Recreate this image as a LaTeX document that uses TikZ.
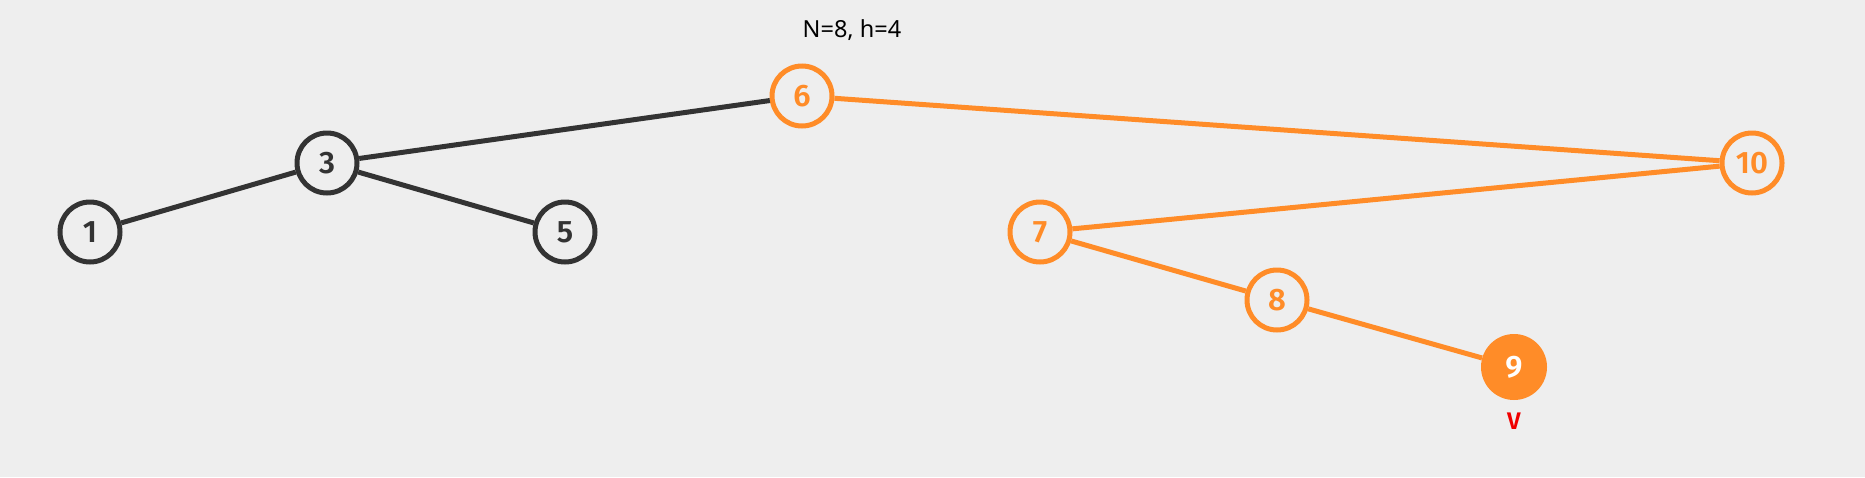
\documentclass[tikz,border=0pt]{standalone}
\usepackage{fontspec}
\setmainfont{Noto Sans}
\newfontfamily\labfont{Fira Sans SemiBold}[Numbers=Lining]
\definecolor{bg}{HTML}{EEEEEE}
\definecolor{dk}{HTML}{333333}
\definecolor{org}{HTML}{FF8C28}
\definecolor{vred}{HTML}{F00000}
\begin{document}
\begin{tikzpicture}[x=1pt,y=-1pt,
  vtx/.style={circle,draw=#1,line width=5pt,fill=bg,minimum size=60pt,inner sep=0pt,text=#1,font=\labfont\fontsize{31}{31}\selectfont},
  edge/.style={draw=#1,line width=5pt}]
\fill[bg] (0,0) rectangle (1865,477);
\useasboundingbox (0,0) rectangle (1865,477);
\node[vtx=dk] (n1) at (90,232) {1};
\node[vtx=dk] (n3) at (327,163) {3};
\node[vtx=dk] (n5) at (565,232) {5};
\node[vtx=org] (n6) at (802,96) {6};
\node[vtx=org] (n10) at (1752,163) {10};
\node[vtx=org] (n7) at (1040,232) {7};
\node[vtx=org] (n8) at (1277,300) {8};
\node[circle,fill=org,minimum size=66pt,inner sep=0pt,text=white,font=\labfont\fontsize{31}{31}\selectfont] (n9) at (1514,367) {9};
\node[font=\fontsize{23.5}{23.5}\selectfont,text=black] (title) at (852,30) {N=8, h=4};
\node[font=\labfont\fontsize{24}{24}\selectfont,text=vred] (v) at (1514,421) {V};
\draw[edge=dk] (n1) -- (n3);
\draw[edge=dk] (n3) -- (n6);
\draw[edge=dk] (n3) -- (n5);
\draw[edge=org] (n6) -- (n10);
\draw[edge=org] (n10) -- (n7);
\draw[edge=org] (n7) -- (n8);
\draw[edge=org] (n8) -- (n9);
\end{tikzpicture}
\end{document}
